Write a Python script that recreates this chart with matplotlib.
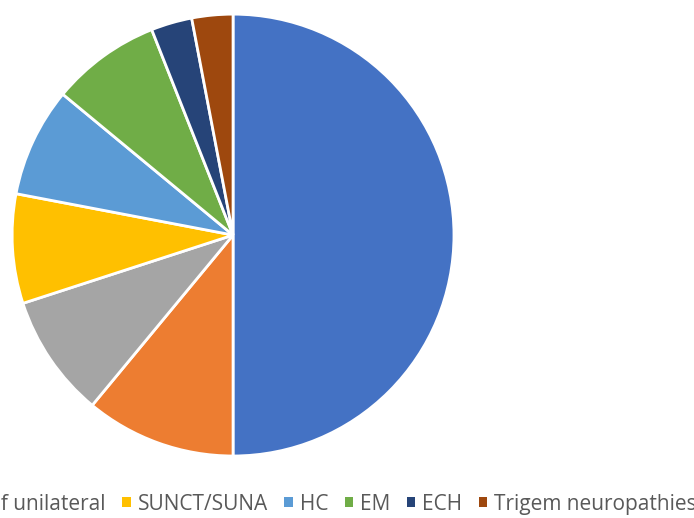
import matplotlib.pyplot as plt
from matplotlib.patches import Patch

# Headache diagnoses and share of patients
labels = ["CCH", "PH", "Other forms of unilateral", "SUNCT/SUNA", "HC", "EM", "ECH",
          "Trigem neuropathies"]
values = [50, 11, 9, 8, 8, 8, 3, 3]
colors = ["#4472C4", "#ED7D31", "#A5A5A5", "#FFC000", "#5B9BD5", "#70AD47",
          "#264478", "#9E480E"]

plt.rcParams["font.family"] = ["Open Sans", "DejaVu Sans"]

fig = plt.figure(figsize=(6.94, 5.18), dpi=100)
ax = fig.add_axes([0.0173, 0.1197, 0.637, 0.853])

ax.pie(
    values,
    colors=colors,
    startangle=90,
    counterclock=False,
    radius=1,
    wedgeprops=dict(edgecolor="white", linewidth=2),
)
ax.set_xlim(-1, 1)
ax.set_ylim(-1, 1)
ax.set_aspect("equal")
ax.axis("off")

# Legend row along the bottom
handles = [Patch(facecolor=c, edgecolor="none") for c in colors]
fig.legend(
    handles,
    labels,
    loc="center right",
    bbox_to_anchor=(1.004, 0.027),
    ncol=len(labels),
    frameon=False,
    fontsize=15,
    labelcolor="#595959",
    handlelength=0.4,
    handleheight=0.4,
    handletextpad=0.33,
    columnspacing=0.8,
    borderpad=0,
    borderaxespad=0,
)

fig.savefig("out.png", dpi=100)
